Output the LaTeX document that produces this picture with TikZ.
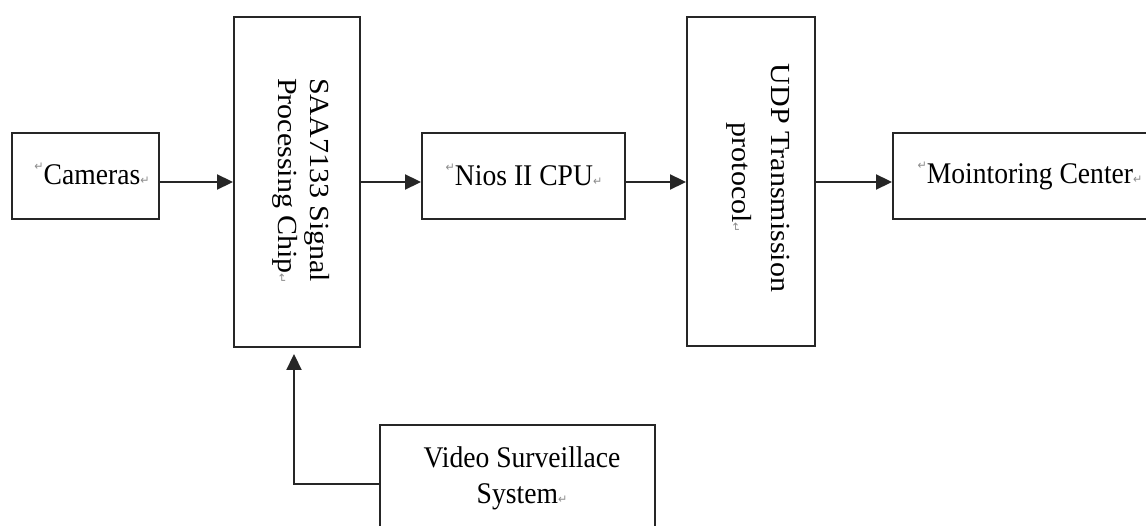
\documentclass[tikz,border=0pt]{standalone}
\usepackage{fontspec}
\setmainfont{Liberation Serif}
\newfontfamily\markfont{DejaVu Sans}
\usetikzlibrary{arrows.meta}
\newcommand\pmk{{\color{black!45}\markfont\fontsize{12}{12}\selectfont ↵}}
\newcommand\lpmk{\raisebox{14pt}{\pmk}}
\begin{document}
\begin{tikzpicture}[x=1pt,y=-1pt,
  box/.style={draw=black!85, line width=1.9pt, inner sep=0pt},
  txt/.style={font=\fontsize{30}{35}\selectfont, inner sep=0pt, xscale=0.92},
  arr/.style={draw=black!85, line width=1.9pt, -{Triangle[length=16pt,width=15pt]}}]
\useasboundingbox (0,0) rectangle (1146,526);
\clip (0,0) rectangle (1146,526);
% boxes
\node[box, minimum width=147pt, minimum height=86pt] (cam) at (85.5,176) {};
\node[box, minimum width=126pt, minimum height=330pt] (saa) at (297,182) {};
\node[box, minimum width=203pt, minimum height=86pt] (nios) at (523.5,176) {};
\node[box, minimum width=128pt, minimum height=329pt] (udp) at (751,181.5) {};
\node[box, minimum width=267pt, minimum height=86pt] (mon) at (1026.5,176) {};
\node[box, minimum width=275pt, minimum height=115pt] (vid) at (517.5,482.5) {};
% texts
\node[txt, anchor=base] (camt) at (92,185) {\lpmk Cameras\pmk};
\node[txt, rotate=-90, align=left] (saat) at (301,181) {SAA7133 Signal\\Processing Chip\pmk};
\node[txt, anchor=base] (niost) at (524,186) {\lpmk Nios II CPU\pmk};
\node[txt, rotate=-90, align=center, font=\fontsize{30}{43}\selectfont] (udpt) at (758,178) {UDP Transmission\\protocol\pmk};
\node[txt, anchor=base] (mont) at (1030,184) {\lpmk Mointoring Center\pmk};
\node[txt, align=center, font=\fontsize{30}{36}\selectfont] (vidt) at (522,478) {Video Surveillace\\System\pmk};
% connectors
\coordinate (row) at (0,182);
\draw[arr] (cam.east |- row) -- (saa.west |- row);
\draw[arr] (saa.east |- row) -- (nios.west |- row);
\draw[arr] (nios.east |- row) -- (udp.west |- row);
\draw[arr] (udp.east |- row) -- (mon.west |- row);
\draw[arr, shorten >=6pt] ([yshift=-1.5pt]vid.west) -| ([xshift=-3pt]saa.south);
\end{tikzpicture}
\end{document}
